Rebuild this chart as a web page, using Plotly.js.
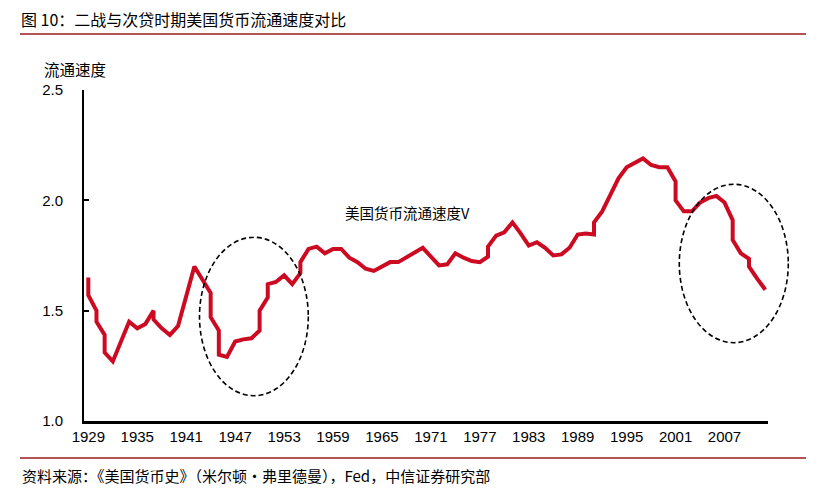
<!DOCTYPE html>
<html>
<head>
<meta charset="utf-8">
<script src="https://cdn.plot.ly/plotly-3.0.1.min.js"></script>
<style>
    html, body { margin: 0; padding: 0; background: #ffffff; }
    #velocity-chart { width: 824px; height: 497px; }
</style>
</head>
<body>
<div id="velocity-chart"></div>
<script>
// 美国货币流通速度 (repeated years are vertical steps)
const years = [
    1929, 1929, 1930, 1930, 1931, 1931, 1932, 1933, 1934, 1935, 1936, 1937, 1937, 1938, 1939, 1940,
    1941, 1942, 1943, 1944, 1944, 1945, 1945, 1946, 1947, 1948, 1949, 1950, 1950, 1951, 1951,
    1952, 1953, 1954, 1955, 1955, 1956, 1957, 1958, 1959, 1960, 1961, 1962, 1963, 1964, 1965,
    1966, 1967, 1968, 1969, 1970, 1971, 1972, 1973, 1974, 1975, 1976, 1977, 1978, 1978, 1979,
    1980, 1981, 1982, 1983, 1984, 1985, 1986, 1987, 1988, 1989, 1990, 1991, 1991, 1992, 1993,
    1994, 1995, 1996, 1997, 1998, 1999, 2000, 2001, 2001, 2002, 2003, 2004, 2005, 2006, 2007,
    2008, 2008, 2009, 2010, 2010, 2011, 2012
];
const velocity = [
    1.65, 1.57, 1.50, 1.45, 1.39, 1.31, 1.27, 1.36, 1.45, 1.42, 1.44, 1.50, 1.46, 1.42, 1.39, 1.43,
    1.565, 1.70, 1.64, 1.58, 1.47, 1.41, 1.30, 1.29, 1.36, 1.37, 1.375, 1.41, 1.50, 1.56, 1.62,
    1.63, 1.66, 1.62, 1.67, 1.72, 1.78, 1.79, 1.76, 1.78, 1.78, 1.74, 1.72, 1.69, 1.68, 1.70,
    1.72, 1.72, 1.74, 1.765, 1.785, 1.745, 1.705, 1.71, 1.76, 1.74, 1.725, 1.72, 1.745, 1.79, 1.84,
    1.855, 1.90, 1.85, 1.795, 1.81, 1.785, 1.75, 1.755, 1.785, 1.845, 1.85, 1.845, 1.90, 1.95, 2.025,
    2.10, 2.15, 2.17, 2.19, 2.16, 2.15, 2.15, 2.085, 2.00, 1.95, 1.95, 1.99, 2.01, 2.02, 1.99,
    1.91, 1.82, 1.76, 1.735, 1.70, 1.645, 1.595
];

const xTickYears = [1929, 1935, 1941, 1947, 1953, 1959, 1965, 1971, 1977, 1983, 1989, 1995, 2001, 2007];
const yTicks = [1.0, 1.5, 2.0, 2.5];

const chartTitle = '图 10：二战与次贷时期美国货币流通速度对比';
const yAxisLabel = '流通速度';
const seriesLabel = '美国货币流通速度V';
const sourceNote = '资料来源：《美国货币史》（米尔顿·弗里德曼），Fed，中信证券研究部';

const CJK_FONT = '"Noto Sans CJK SC", "Noto Sans", sans-serif';
const NUM_FONT = '"Liberation Sans", Arial, sans-serif';
const RULE_RED = '#9E1A1D';

// plot area in pixels: left 84, right 768, top 90, bottom 421
const plotLeft = 84, plotWidth = 684, plotTop = 90, plotHeight = 331;
function px(x) { return (x - plotLeft) / plotWidth; }
function py(y) { return (plotTop + plotHeight - y) / plotHeight; }

function createVelocityChart() {
    if (typeof Plotly === 'undefined') return;

    const trace = {
        x: years,
        y: velocity,
        type: 'scatter',
        mode: 'lines',
        name: seriesLabel,
        line: { color: '#CC0A22', width: 4, shape: 'linear' },
        hoverinfo: 'x+y'
    };

    const dashedRing = (x0, y0, x1, y1) => ({
        type: 'circle',
        xref: 'paper', yref: 'paper',
        x0: px(x0), x1: px(x1), y0: py(y1), y1: py(y0),
        line: { color: '#000000', width: 1.6, dash: '5px,3px' }
    });

    const layout = {
        width: 824,
        height: 497,
        margin: { l: 84, r: 56, t: 90, b: 76 },
        paper_bgcolor: '#ffffff',
        plot_bgcolor: '#ffffff',
        showlegend: false,
        font: { family: NUM_FONT, size: 14, color: '#000000' },
        xaxis: {
            range: [1928.47, 2012.33],
            tickvals: xTickYears,
            ticktext: xTickYears.map(String),
            ticks: '',
            showgrid: false,
            zeroline: false,
            showline: true,
            linecolor: '#000000',
            linewidth: 2.5,
            tickfont: { family: NUM_FONT, size: 15, color: '#000000' }
        },
        yaxis: {
            range: [1.0, 2.5],
            tickvals: yTicks,
            ticktext: yTicks.map(v => v.toFixed(1)),
            ticks: 'inside',
            ticklen: 5,
            tickwidth: 2,
            tickcolor: '#000000',
            ticklabelstandoff: 16,
            showgrid: false,
            zeroline: false,
            showline: true,
            linecolor: '#000000',
            linewidth: 2,
            tickfont: { family: NUM_FONT, size: 15, color: '#000000' }
        },
        shapes: [
            // title rule and source rule
            { type: 'line', xref: 'paper', yref: 'paper', x0: px(20), x1: px(806), y0: py(34), y1: py(34),
              line: { color: RULE_RED, width: 1.4 } },
            { type: 'line', xref: 'paper', yref: 'paper', x0: px(20), x1: px(806), y0: py(458), y1: py(458),
              line: { color: RULE_RED, width: 1.4 } },
            // the two highlighted episodes
            dashedRing(199.5, 237.3, 308.3, 395.7),
            dashedRing(679.3, 184.3, 788.3, 342.7)
        ],
        annotations: [
            { text: chartTitle, xref: 'paper', yref: 'paper', x: px(19), y: py(19),
              xanchor: 'left', yanchor: 'middle', showarrow: false,
              font: { family: CJK_FONT, size: 16, color: '#000000' } },
            { text: yAxisLabel, xref: 'paper', yref: 'paper', x: px(42), y: py(69),
              xanchor: 'left', yanchor: 'middle', showarrow: false,
              font: { family: CJK_FONT, size: 15.5, color: '#000000' } },
            { text: seriesLabel, xref: 'paper', yref: 'paper', x: px(343), y: py(212),
              xanchor: 'left', yanchor: 'middle', showarrow: false,
              font: { family: CJK_FONT, size: 14.5, color: '#000000' } },
            { text: sourceNote, xref: 'paper', yref: 'paper', x: px(20), y: py(475),
              xanchor: 'left', yanchor: 'middle', showarrow: false,
              font: { family: CJK_FONT, size: 15, color: '#000000' } }
        ]
    };

    try {
        Plotly.newPlot('velocity-chart', [trace], layout, { responsive: false, displayModeBar: false, staticPlot: true });
    } catch (error) {
        console.log('Error creating velocity chart:', error);
    }
}

createVelocityChart();
</script>
</body>
</html>
